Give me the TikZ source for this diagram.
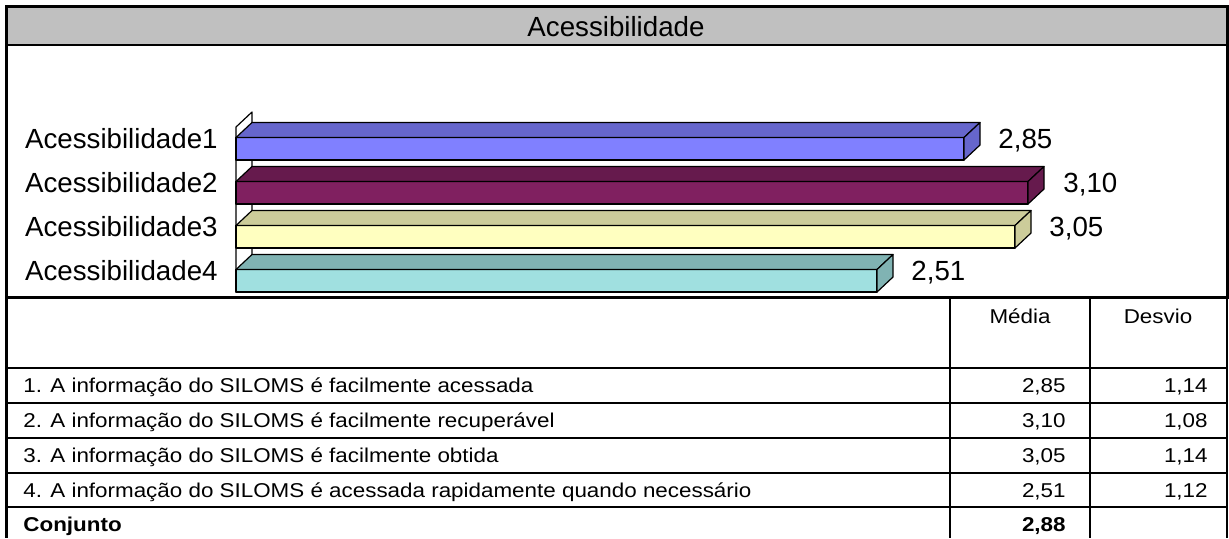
\documentclass[tikz,border=0pt]{standalone}
\usepackage{fontspec}
\setmainfont{Liberation Sans}
\newfontfamily\tabfont[FakeStretch=1.12]{Liberation Sans}
\usepackage{tikz}
\usetikzlibrary{calc}

\definecolor{titlegray}{HTML}{C0C0C0}
\definecolor{accfrontA}{HTML}{8080FF}
\definecolor{acctopA}{HTML}{6666CC}
\definecolor{accfrontB}{HTML}{802060}
\definecolor{acctopB}{HTML}{661A4D}
\definecolor{accfrontC}{HTML}{FFFFC0}
\definecolor{acctopC}{HTML}{CCCC9A}
\definecolor{accfrontD}{HTML}{A0E0E0}
\definecolor{acctopD}{HTML}{80B3B3}

\begin{document}
\begin{tikzpicture}
  [
    x=0.5pt, y=-0.5pt,
    chartlabel/.style={inner sep=0pt, font=\fontsize{13.85}{16}\selectfont},
    celltext/.style={inner sep=0pt, font=\tabfont\fontsize{10}{12}\selectfont},
    barline/.style={draw=black, line width=0.6pt, line join=round},
    gridline/.style={draw=black, line width=1pt}
  ]
    \path[use as bounding box] (0,0) rectangle (1229,538);
    \fill[white] (0,0) rectangle (1229,538);

    % title band and chart frame
    \filldraw[fill=titlegray, draw=black, line width=1pt] (6.5,6) rectangle (1227,44.5);
    \node[chartlabel, anchor=base] (title) at (616,36) {Acessibilidade};

    % side wall
    \filldraw[fill=white, barline] (236,292) -- (236,127) -- (252,112) -- (252,277) -- cycle;

    % bars: front, top, end
    \filldraw[fill=accfrontA, barline] (236,137.5) rectangle (964,160);
    \filldraw[fill=acctopA, barline] (236,137.5) -- (252,122.5) -- (980,122.5) -- (964,137.5) -- cycle;
    \filldraw[fill=acctopA, barline] (964,137.5) -- (980,122.5) -- (980,145) -- (964,160) -- cycle;

    \filldraw[fill=accfrontB, barline] (236,181.5) rectangle (1028,204);
    \filldraw[fill=acctopB, barline] (236,181.5) -- (252,166.5) -- (1044,166.5) -- (1028,181.5) -- cycle;
    \filldraw[fill=acctopB, barline] (1028,181.5) -- (1044,166.5) -- (1044,189) -- (1028,204) -- cycle;

    \filldraw[fill=accfrontC, barline] (236,225.5) rectangle (1015,248);
    \filldraw[fill=acctopC, barline] (236,225.5) -- (252,210.5) -- (1031,210.5) -- (1015,225.5) -- cycle;
    \filldraw[fill=acctopC, barline] (1015,225.5) -- (1031,210.5) -- (1031,233) -- (1015,248) -- cycle;

    \filldraw[fill=accfrontD, barline] (236,269.5) rectangle (877,292);
    \filldraw[fill=acctopD, barline] (236,269.5) -- (252,254.5) -- (893,254.5) -- (877,269.5) -- cycle;
    \filldraw[fill=acctopD, barline] (877,269.5) -- (893,254.5) -- (893,277) -- (877,292) -- cycle;

    \node[chartlabel, anchor=base east] (acc1) at (218,148) {Acessibilidade1};
    \node[chartlabel, anchor=base east] (acc2) at (218,192) {Acessibilidade2};
    \node[chartlabel, anchor=base east] (acc3) at (218,236) {Acessibilidade3};
    \node[chartlabel, anchor=base east] (acc4) at (218,280) {Acessibilidade4};

    \node[chartlabel, anchor=base west] (val1) at (998,148) {2,85};
    \node[chartlabel, anchor=base west] (val2) at (1063,192) {3,10};
    \node[chartlabel, anchor=base west] (val3) at (1049,236) {3,05};
    \node[chartlabel, anchor=base west] (val4) at (911,280) {2,51};

    \draw[black, line width=1.5pt] (6.5,44.5) -- (6.5,297) -- (1227,297) -- (1227,44.5);
    \draw[black, line width=1.5pt] (6.5,6) rectangle (1227,297);

    % table grid
    \draw[gridline, line width=1.2pt] (6.5,297) -- (6.5,538);
    \draw[gridline, line width=1.2pt] (1227,297) -- (1227,538);
    \draw[gridline] (950,297) -- (950,538);
    \draw[gridline] (1090,297) -- (1090,538);
    \draw[gridline] (6.5,368) -- (1227,368);
    \draw[gridline] (6.5,403) -- (1227,403);
    \draw[gridline] (6.5,438) -- (1227,438);
    \draw[gridline] (6.5,473) -- (1227,473);
    \draw[gridline] (6.5,507) -- (1227,507);

    \node[celltext, anchor=base] (media) at (1020,323) {Média};
    \node[celltext, anchor=base] (desvio) at (1158,323) {Desvio};

    \node[celltext, anchor=base west] (item1) at (23,392.5) {1. A informação do SILOMS é facilmente acessada};
    \node[celltext, anchor=base west] (item2) at (23,427.5) {2. A informação do SILOMS é facilmente recuperável};
    \node[celltext, anchor=base west] (item3) at (23,462.5) {3. A informação do SILOMS é facilmente obtida};
    \node[celltext, anchor=base west] (item4) at (23,497) {4. A informação do SILOMS é acessada rapidamente quando necessário};
    \node[celltext, anchor=base west, font=\tabfont\bfseries\fontsize{10}{12}\selectfont] (conj) at (23,531.5) {Conjunto};

    \node[celltext, anchor=base east] (med1) at (1066,392.5) {2,85};
    \node[celltext, anchor=base east] (med2) at (1066,427.5) {3,10};
    \node[celltext, anchor=base east] (med3) at (1066,462.5) {3,05};
    \node[celltext, anchor=base east] (med4) at (1066,497) {2,51};
    \node[celltext, anchor=base east, font=\tabfont\bfseries\fontsize{10}{12}\selectfont] (medc) at (1066,531.5) {2,88};

    \node[celltext, anchor=base east] (dev1) at (1208,392.5) {1,14};
    \node[celltext, anchor=base east] (dev2) at (1208,427.5) {1,08};
    \node[celltext, anchor=base east] (dev3) at (1208,462.5) {1,14};
    \node[celltext, anchor=base east] (dev4) at (1208,497) {1,12};
  \end{tikzpicture}
\end{document}
